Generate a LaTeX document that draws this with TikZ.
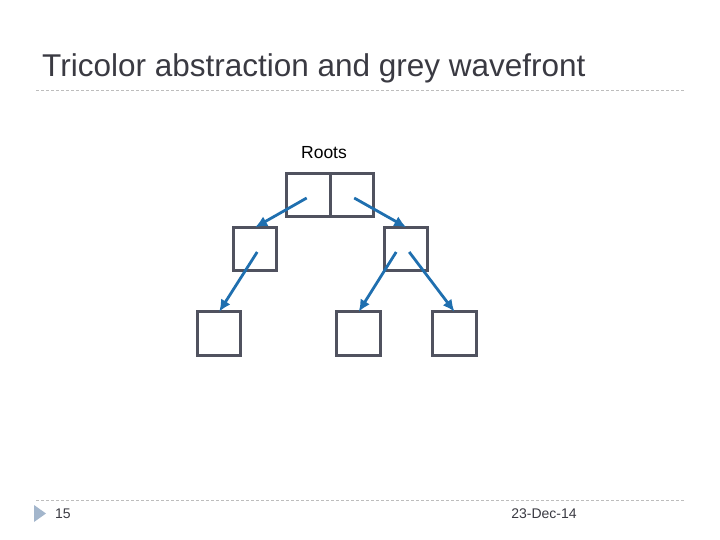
\documentclass[tikz,border=0pt]{standalone}
\usepackage{fontspec}
\setmainfont{Liberation Sans}
\usepackage{tikz}
\usetikzlibrary{arrows.meta,positioning}
\definecolor{SlideInk}{HTML}{3A3A42}
\definecolor{CellEdge}{HTML}{50525F}
\definecolor{PtrBlue}{HTML}{1F6FAF}
\definecolor{RuleGrey}{HTML}{BDBDBD}
\definecolor{BulletBlue}{HTML}{A3B6CC}

\begin{document}
\begin{tikzpicture}[x=1pt,y=-1pt,
  cell/.style={draw=CellEdge,line width=3pt,minimum size=43.5pt,outer sep=0pt,inner sep=0pt},
  ptr/.style={draw=PtrBlue,line width=2.8pt,-{Latex[length=12pt,width=11pt]}},
  rule/.style={draw=RuleGrey,line width=0.9pt,dash pattern=on 3pt off 2pt},
  title/.style={font=\fontsize{31.5}{36}\selectfont,text=SlideInk,anchor=west,inner sep=0pt},
  foot/.style={font=\fontsize{14}{16}\selectfont,text=SlideInk,inner sep=0pt},
]
\useasboundingbox (0,0) rectangle (720,540);
\node[title] (head) at (42,68) {Tricolor abstraction and grey wavefront};
\coordinate (hl) at (36,90);
\coordinate (hr) at (685,90);
\draw[rule] (hl) -- (hr);
\node[cell] (rl) at (308.7,195) {};
\node[cell,right=0pt of rl] (rr) {};
\node[font=\fontsize{17.5}{20}\selectfont,inner sep=0pt] (roots) at (324,153) {Roots};
\node[cell,below left=10.5pt and 10pt of rl] (ml) {};
\node[cell,below right=10.5pt and 10.5pt of rr] (mr) {};
\node[cell,below=41pt of ml,xshift=-36pt] (bl) {};
\node[cell,below=41pt of mr,xshift=-47.5pt] (bm) {};
\node[cell,below=41pt of mr,xshift=48.3pt] (br) {};
\draw[ptr] ([xshift=-2pt,yshift=-3pt]rl.center) -- (ml.north);
\draw[ptr] ([xshift=2pt,yshift=-3pt]rr.center) -- (mr.north);
\draw[ptr] ([xshift=2pt,yshift=-3pt]ml.center) -- (bl.north);
\draw[ptr] ([xshift=-10pt,yshift=-3pt]mr.center) -- (bm.north);
\draw[ptr] ([xshift=3pt,yshift=-3pt]mr.center) -- (br.north);
\coordinate (fl) at (36,500);
\coordinate (fr) at (685,500);
\draw[rule] (fl) -- (fr);
\fill[BulletBlue] (34,505) -- (34,522) -- (46,513.5) -- cycle;
\node[foot,anchor=west] (page) at (55,513.5) {15};
\node[foot] (date) at (544,513.5) {23-Dec-14};
\end{tikzpicture}
\end{document}
